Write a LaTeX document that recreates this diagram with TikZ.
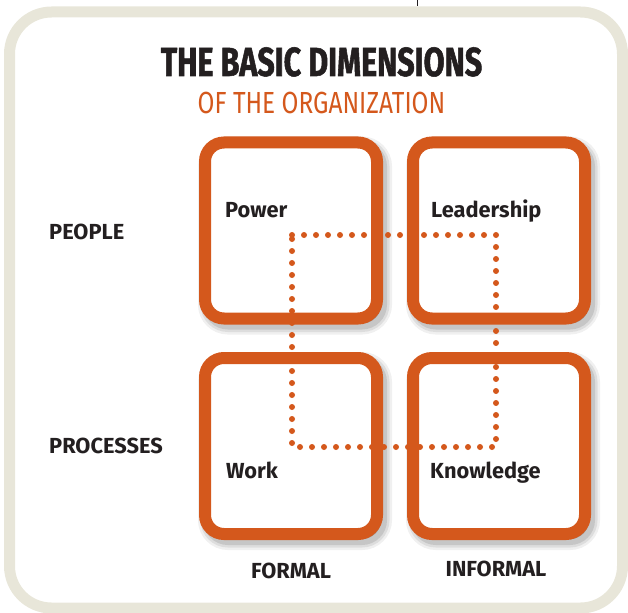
\documentclass[tikz,border=0pt]{standalone}
\usepackage{fontspec}
\setmainfont{Fira Sans}
\newfontfamily\headfont[FakeStretch=0.75,BoldFeatures={FakeBold=1.3}]{Fira Sans}
\newfontfamily\subfont[FakeStretch=0.80]{Fira Sans}
\usepackage{xcolor}
\definecolor{rust}{HTML}{D4581C}
\definecolor{ink}{HTML}{231F20}
\definecolor{paper}{HTML}{E8E6D9}
\usetikzlibrary{positioning,shadows}

\begin{document}
\begin{tikzpicture}[x=1pt,y=-1pt,
  node distance=39.5pt and 36pt,
  cell/.style={fill=white,minimum width=172pt,minimum height=176pt,inner sep=0pt,outer sep=0pt,rounded corners=19pt,
               drop shadow={shadow xshift=4pt,shadow yshift=-5pt,opacity=.06,fill=black,draw=black,line width=22pt},
               drop shadow={shadow xshift=4pt,shadow yshift=-5pt,opacity=.08,fill=black,draw=black,line width=17pt},
               drop shadow={shadow xshift=4pt,shadow yshift=-5pt,opacity=.10,fill=black,draw=black,line width=12pt}},
  rim/.style={draw=rust,line width=12pt,rounded corners=19pt},
  dots/.style={draw=rust,line width=6pt,line cap=round,dash pattern=on 0pt off 12pt},
  tag/.style={font=\bfseries\fontsize{21.8}{24}\selectfont,text=ink,inner sep=0pt}]
\useasboundingbox (0,0) rectangle (628,612);
% outer frame and the stray rule above it
\draw[paper,line width=11pt,rounded corners=42pt] (9.5,12) rectangle (622.5,608);
\draw[ink,line width=0.8pt] (417,0) -- (417,6);
\node[anchor=base,text=ink,inner sep=0pt,font=\headfont\bfseries\fontsize{40.6}{44}\selectfont] (title) at (321.5,76) {THE BASIC DIMENSIONS};
\node[anchor=base,text=rust,inner sep=0pt,font=\subfont\fontsize{30.5}{34}\selectfont] (subtitle) at (321.5,114) {OF THE ORGANIZATION};
% the four cells
\node[cell] (pow) at (291,230.5) {};
\node[cell,right=of pow] (lead) {};
\node[cell,below=of pow] (work) {};
\node[cell,below=of lead] (know) {};
% dotted ring through the cells
\coordinate (dA) at (292,235);
\coordinate (dB) at (496,235);
\coordinate (dC) at (496,447);
\coordinate (dD) at (292,447);
\draw[dots] (dA) -- (dB) -- (dC) -- (dD) -- cycle;
\foreach \c in {pow,lead,work,know}
  \draw[rim] (\c.north west) rectangle (\c.south east);
% cell labels
\node[tag,anchor=base west] (powt) at (225,217) {Power};
\node[tag,anchor=base west] (leadt) at (431,217) {Leadership};
\node[tag,anchor=base west] (workt) at (226,478) {Work};
\node[tag,anchor=base west] (knowt) at (430,478) {Knowledge};
% row and column heads
\node[tag,anchor=base west] (people) at (49,239) {PEOPLE};
\node[tag,anchor=base west] (proc) at (49,453) {PROCESSES};
\node[tag,anchor=base] (formal) at (291,578) {FORMAL};
\node[tag,anchor=base] (informal) at (496,576) {INFORMAL};
\end{tikzpicture}
\end{document}
